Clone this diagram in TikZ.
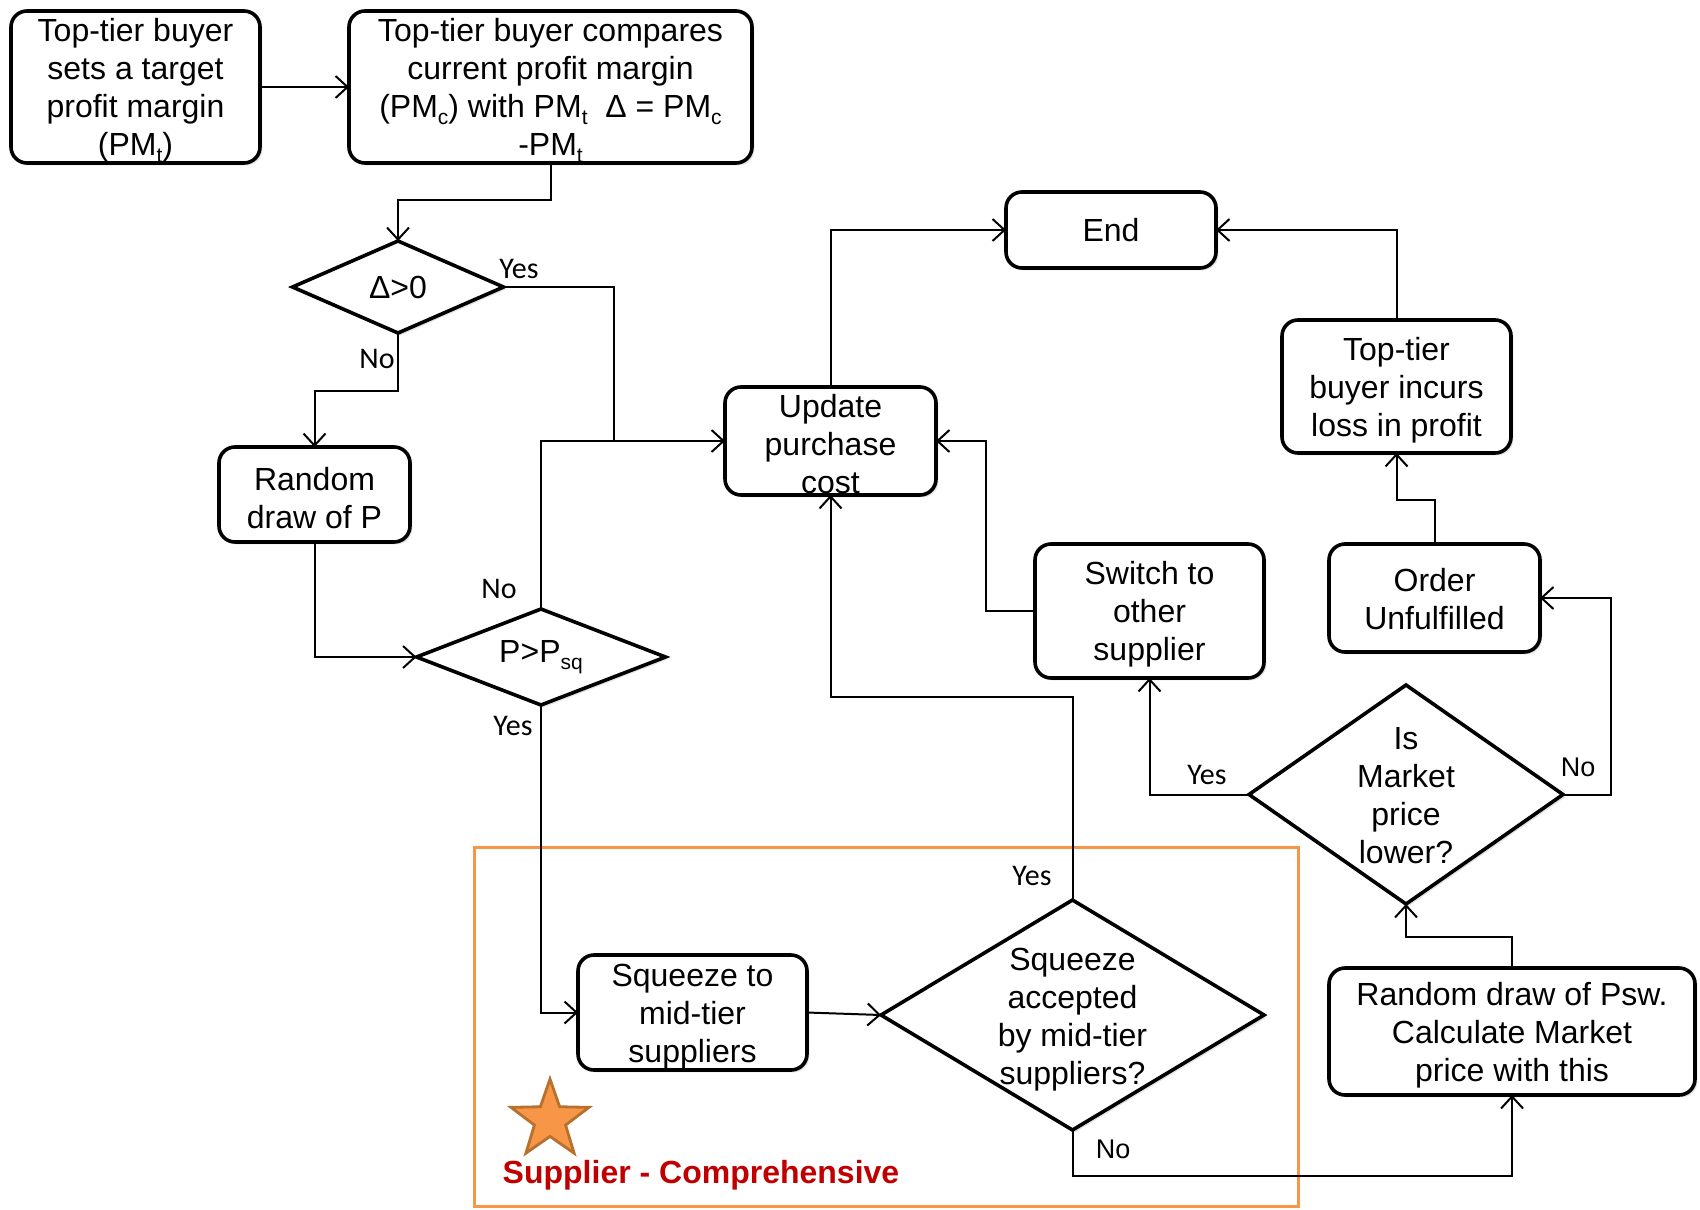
\documentclass[tikz,border=0pt]{standalone}
\usepackage{fontspec}
\setmainfont{Liberation Sans}
\newfontfamily\calfont{Carlito}
\usetikzlibrary{shapes.geometric,arrows.meta,shadows}
\definecolor{orangeframe}{HTML}{F79646}
\definecolor{starfill}{HTML}{F79646}
\definecolor{stardraw}{HTML}{B8702E}
\definecolor{redtext}{HTML}{C00000}
\newcommand\mysub[1]{\raisebox{-0.45ex}{\fontsize{10.5}{10.5}\selectfont #1}}
\newcommand\tstrut{\rule{0pt}{15pt}}
\newcommand\sstrut{\rule{0pt}{13pt}}
\tikzset{
  shadowed/.style={drop shadow={shadow xshift=1.2pt,shadow yshift=-1.2pt,opacity=0.22}},
  box/.style={draw, line width=1.8pt, rounded corners=8pt, fill=white, align=center,
    inner sep=0pt, outer sep=0pt, font=\fontsize{16}{19}\selectfont, shadowed},
  dia/.style={draw, diamond, line width=1.8pt, fill=white, inner sep=0pt, outer sep=0pt, shadowed},
  txt/.style={align=center, inner sep=0pt, font=\fontsize{16}{19}\selectfont},
  conn/.style={line width=1pt, -{Straight Barb[length=6pt,width=11pt,line width=1pt]}},
  plainline/.style={line width=1pt},
  lbl/.style={inner sep=0pt, font=\calfont\fontsize{15}{18}\selectfont},
  lbltwo/.style={inner sep=0pt, font=\fontsize{13.5}{16}\selectfont},
}
\begin{document}
\begin{tikzpicture}[x=0.5pt,y=-0.5pt]
\useasboundingbox (0,0) rectangle (1700,1209);

% frame and star
\node[draw=orangeframe, line width=1.5pt, minimum width=412pt, minimum height=179.5pt, inner sep=0pt] (frame) at (886,1026.5) {};
\node[star, star points=5, star point ratio=2.5, fill=starfill, draw=stardraw, line width=1.4pt, minimum size=41pt, inner sep=0pt] (star) at (550,1120) {};
\node[inner sep=0pt, text=redtext, font=\bfseries\fontsize{16}{19}\selectfont] (suplbl) at (701,1175) {Supplier - Comprehensive};

% boxes
\node[box, minimum width=124.5pt, minimum height=76pt] (b1) at (135.5,87) {\tstrut Top-tier buyer\\sets a target\\profit margin\\(PM\mysub{t})};
\node[box, minimum width=201.5pt, minimum height=76pt] (b2) at (550.5,87) {\tstrut Top-tier buyer compares\\current profit margin\\(PM\mysub{c}) with PM\mysub{t}\ \ Δ = PM\mysub{c}\\-PM\mysub{t}};
\node[dia, minimum width=105.5pt, minimum height=46pt] (d1) at (398,287) {};
\node[txt] (d1t) at (d1) {Δ>0};
\node[box, minimum width=95.5pt, minimum height=47.5pt] (rp) at (314.5,494.5) {\tstrut Random\\draw of P};
\node[dia, minimum width=124.5pt, minimum height=48pt] (d2) at (541,657) {};
\node[txt] (d2t) at (541,657) {P>P\mysub{sq}};
\node[box, minimum width=105.5pt, minimum height=54pt] (up) at (830.5,441) {\tstrut Update\\purchase\\cost};
\node[box, minimum width=105pt, minimum height=38pt] (end) at (1111,230) {End};
\node[box, minimum width=114.5pt, minimum height=66.5pt] (loss) at (1396.5,386.5) {\tstrut Top-tier\\buyer incurs\\loss in profit};
\node[box, minimum width=114.5pt, minimum height=67pt] (sw) at (1149.5,611) {\tstrut Switch to\\other\\supplier};
\node[box, minimum width=105.5pt, minimum height=54pt] (ord) at (1434.5,598) {\sstrut Order\\Unfulfilled};
\node[dia, minimum width=157pt, minimum height=109.5pt] (d3) at (1406,794.5) {};
\node[txt] (d3t) at (1406,792) {\tstrut Is\\Market\\price\\lower?};
\node[box, minimum width=183pt, minimum height=63.5pt] (psw) at (1512,1031.5) {\tstrut Random draw of Psw.\\Calculate Market\\price with this};
\node[box, minimum width=114.5pt, minimum height=57.5pt] (sq) at (692.5,1012.5) {\tstrut Squeeze to\\mid-tier\\suppliers};
\node[dia, minimum width=191.5pt, minimum height=115pt] (d4) at (1072.5,1015) {};
\node[txt] (d4t) at (1072.5,1016) {\tstrut Squeeze\\accepted\\by mid-tier\\suppliers?};

% connectors
\coordinate (j1) at (614,441);
\draw[conn] (b1.east) -- (b2.west);
\draw[conn] (b2.south) -- ++(0,37) -| (d1.north);
\draw[plainline] (d1.east) -| (j1);
\draw[conn] (d2.north) |- (up.west);
\draw[conn] (d1.south) -- ++(0,58) -| (rp.north);
\draw[conn] (rp.south) |- (d2.west);
\draw[conn] (d2.south) |- (sq.west);
\draw[conn] (sq.east) -- (d4.west);
\draw[conn] (d4.north) -- ++(0,-203) -| (up.south);
\draw[conn] (d4.south) -- ++(0,46) -| (psw.south);
\draw[conn] (psw.north) -- ++(0,-31) -| (d3.south);
\draw[conn] (d3.west) -| (sw.south);
\draw[conn] (d3.east) -- ++(48,0) |- (ord.east);
\draw[conn] (ord.north) -- ++(0,-44) -| (loss.south);
\draw[conn] (loss.north) |- (end.east);
\draw[conn] (up.north) |- (end.west);
\draw[conn] (sw.west) -- ++(-49,0) |- (up.east);

% labels
\node[lbl] (l1) at (519,269) {Yes};
\node[lbl] (l2) at (377,359) {No};
\node[lbl] (l3) at (499,589) {No};
\node[lbl] (l4) at (513,726) {Yes};
\node[lbl] (l5) at (1032,876) {Yes};
\node[lbltwo] (l6) at (1113,1149) {No};
\node[lbl] (l7) at (1207,775) {Yes};
\node[lbltwo] (l8) at (1578,767) {No};
\end{tikzpicture}
\end{document}
